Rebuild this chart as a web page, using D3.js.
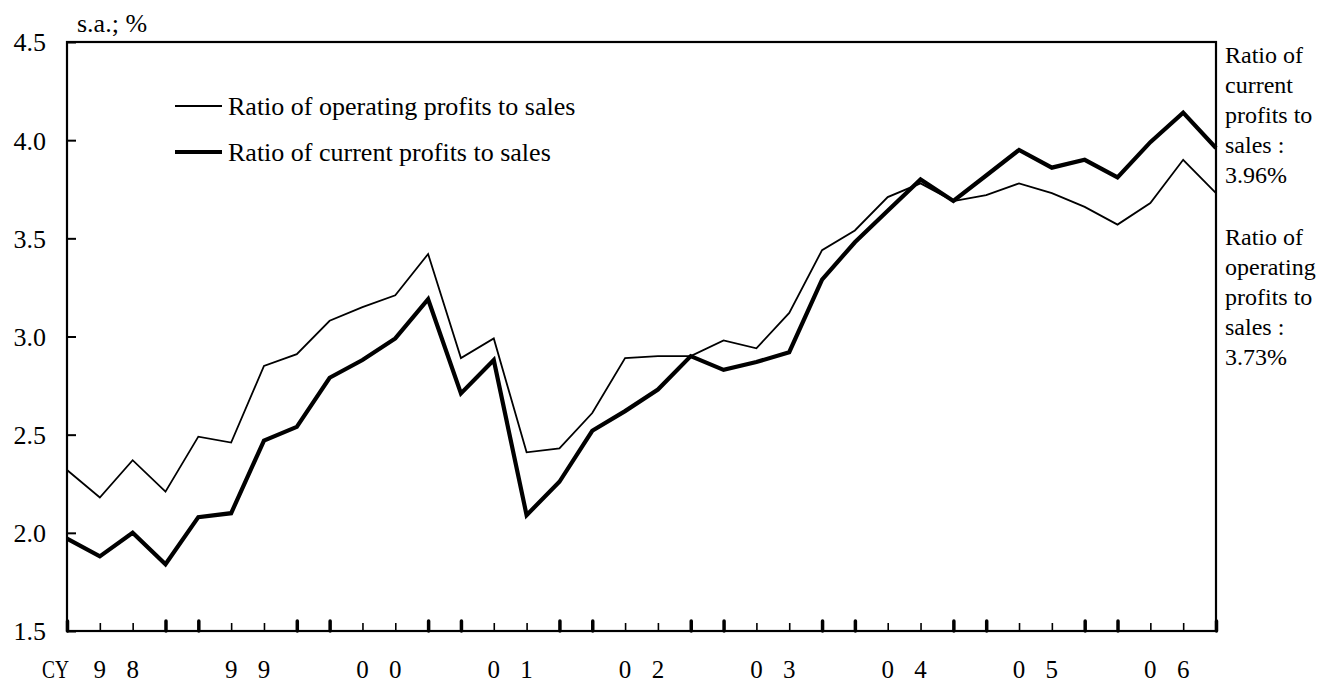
<!DOCTYPE html>
<html>
<head>
<meta charset="utf-8">
<script src="https://cdn.jsdelivr.net/npm/d3@7"></script>
<style>
  html, body { margin: 0; padding: 0; background: #fff; }
  svg { display: block; font-family: "Liberation Serif", "Times New Roman", serif; }
</style>
</head>
<body>
<svg id="chart" width="1320" height="684"></svg>
<script>
// Quarterly data, CY1998 Q1 .. CY2006 Q4
const quarters = d3.range(36);
const yearLabels = ["9 8", "9 9", "0 0", "0 1", "0 2", "0 3", "0 4", "0 5", "0 6"];
const operatingProfits = [
  2.32, 2.18, 2.37, 2.21, 2.49, 2.46, 2.85, 2.91,
  3.08, 3.15, 3.21, 3.42, 2.89, 2.99, 2.41, 2.43,
  2.61, 2.89, 2.90, 2.90, 2.98, 2.94, 3.12, 3.44,
  3.54, 3.71, 3.78, 3.69, 3.72, 3.78, 3.73, 3.66,
  3.57, 3.68, 3.90, 3.73
];
const currentProfits = [
  1.97, 1.88, 2.00, 1.84, 2.08, 2.10, 2.47, 2.54,
  2.79, 2.88, 2.99, 3.19, 2.71, 2.88, 2.09, 2.26,
  2.52, 2.62, 2.73, 2.90, 2.83, 2.87, 2.92, 3.29,
  3.48, 3.64, 3.80, 3.69, 3.82, 3.95, 3.86, 3.90,
  3.81, 3.99, 4.14, 3.96
];
const yTicks = [1.5, 2.0, 2.5, 3.0, 3.5, 4.0, 4.5];
const legendLabels = ["Ratio of operating profits to sales", "Ratio of current profits to sales"];
const noteCurrent = ["Ratio of", "current", "profits to", "sales :", "3.96%"];
const noteOperating = ["Ratio of", "operating", "profits to", "sales :", "3.73%"];

(function () {
const svg = d3.select("#chart");
const pL = 67, pR = 1216, pT = 42, pB = 631;
const x = d3.scalePoint().domain(quarters).range([pL, pR]);
const y = d3.scaleLinear().domain([1.5, 4.5]).range([pB, pT]);
const FS = 26;

// Frame
svg.append("rect")
  .attr("x", pL).attr("y", pT)
  .attr("width", pR - pL).attr("height", pB - pT)
  .attr("fill", "none").attr("stroke", "#000").attr("stroke-width", 2.2);

// Y axis ticks (inward) and labels
const yAxis = d3.axisRight(y).tickValues(yTicks).tickSize(9).tickFormat(d3.format(".1f"));
const gy = svg.append("g").attr("transform", `translate(${pL},0)`).call(yAxis);
gy.select(".domain").remove();
gy.selectAll(".tick line").attr("stroke", "#000").attr("stroke-width", 2);
gy.selectAll(".tick text")
  .attr("x", -21).attr("dy", "0.34em")
  .attr("text-anchor", "end")
  .style("font-family", "Liberation Serif, serif")
  .style("font-size", FS + "px").attr("fill", "#000");

// X axis ticks (inward), thick at year boundaries
const xAxis = d3.axisTop(x).tickSize(9).tickFormat("");
const gx = svg.append("g").attr("transform", `translate(0,${pB})`).call(xAxis);
gx.select(".domain").remove();
const isEdge = d => (d % 4 === 0 || d % 4 === 3);
gx.selectAll(".tick line")
  .attr("stroke", "#000")
  .attr("stroke-width", d => isEdge(d) ? 3.5 : 1.6)
  .attr("y2", d => isEdge(d) ? -10 : -8)
  .attr("stroke-linecap", d => isEdge(d) ? "round" : "butt");

// Year labels: two digits at the 2nd and 3rd quarter of each year
const yl = svg.append("g").style("font-size", "25px");
const labY = 678;
yearLabels.forEach((lab, i) => {
  const parts = lab.split(" ");
  yl.append("text").attr("x", x(i * 4 + 1)).attr("y", labY).attr("text-anchor", "middle").text(parts[0]);
  yl.append("text").attr("x", x(i * 4 + 2)).attr("y", labY).attr("text-anchor", "middle").text(parts[1]);
});
yl.append("text").attr("x", 42).attr("y", labY).attr("textLength", 27).attr("lengthAdjust", "spacingAndGlyphs").text("CY");

// Unit label
svg.append("text").attr("x", 77).attr("y", 32).style("font-size", FS + "px").text("s.a.; %");

// Lines
const line = d3.line().x((d, i) => x(i)).y(d => y(d));
svg.append("path").datum(operatingProfits)
  .attr("d", line).attr("fill", "none").attr("stroke", "#000")
  .attr("stroke-width", 1.8).attr("stroke-linejoin", "miter");
svg.append("path").datum(currentProfits)
  .attr("d", line).attr("fill", "none").attr("stroke", "#000")
  .attr("stroke-width", 4.2).attr("stroke-linejoin", "miter");

// Legend
const legend = svg.append("g");
[[106, 1.8], [152, 4.2]].forEach(([ly, sw], i) => {
  legend.append("line").attr("x1", 175).attr("x2", 222).attr("y1", ly).attr("y2", ly)
    .attr("stroke", "#000").attr("stroke-width", sw);
  legend.append("text").attr("x", 228).attr("y", ly + 9).style("font-size", FS + "px").text(legendLabels[i]);
});

// Right-side notes
const notes = svg.append("g").style("font-size", "24px");
noteCurrent.forEach((t, i) => {
  notes.append("text").attr("x", 1225).attr("y", 63 + i * 30).text(t);
});
noteOperating.forEach((t, i) => {
  notes.append("text").attr("x", 1225).attr("y", 245 + i * 30).text(t);
});
})();
</script>
</body>
</html>
